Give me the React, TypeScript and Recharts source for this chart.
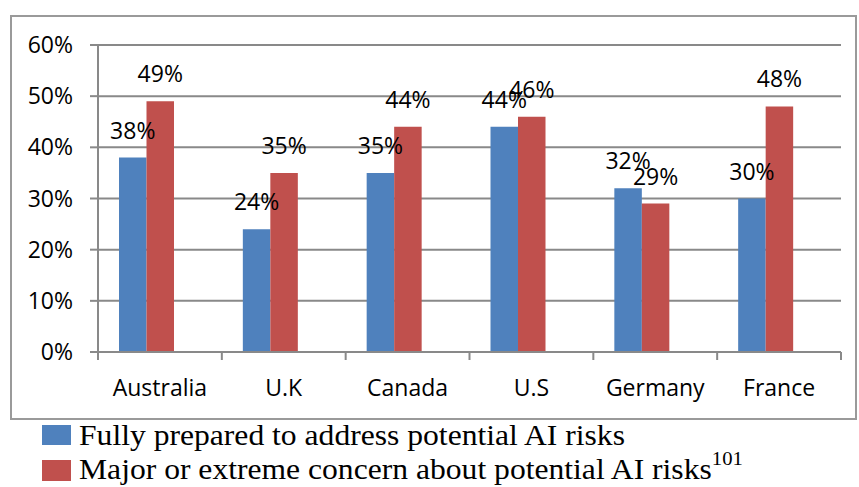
import React from 'react';
import { BarChart, Bar, XAxis, YAxis, CartesianGrid, Legend, LabelList } from 'recharts';

const categories = ['Australia', 'U.K', 'Canada', 'U.S', 'Germany', 'France'];
const preparedValues = [38, 24, 35, 44, 32, 30];
const concernValues = [49, 35, 44, 46, 29, 48];
const yTicks = [0, 10, 20, 30, 40, 50, 60];
const seriesNames = [
  'Fully prepared to address potential AI risks',
  'Major or extreme concern about potential AI risks',
];
const footnote = '101';

const data = categories.map((c, i) => ({
  name: c,
  prepared: preparedValues[i],
  concern: concernValues[i],
}));

const W = 859;
const H = 487;
const MARGIN = { top: 45, right: 18, left: 0, bottom: 0 };
const Y_AXIS_W = 98;
const PLOT_W = W - MARGIN.right - MARGIN.left - Y_AXIS_W;
const GRAY = '#898989';
const BLUE = '#4F81BD';
const RED = '#C0504D';
const SANS = '"Open Sans", Lato, sans-serif';
const SERIF = '"Liberation Serif", "Times New Roman", serif';
const FS = 23;

const XTick = (props: any) => {
  const { x, y, payload, index } = props;
  const band = PLOT_W / categories.length;
  const left = x - band / 2;
  const right = x + band / 2;
  return (
    <g>
      <line x1={left} x2={left} y1={y} y2={y + 8} stroke={GRAY} strokeWidth={2} />
      {index === categories.length - 1 && (
        <line x1={right} x2={right} y1={y} y2={y + 8} stroke={GRAY} strokeWidth={2} />
      )}
      <text x={x} y={y + 44} textAnchor="middle" fontFamily={SANS} fontSize={FS} fill="#000">
        {payload.value}
      </text>
    </g>
  );
};

const makeLabel = (props: any) => {
  const { x, y, width, value } = props;
  return (
    <text
      x={Number(x) + Number(width) / 2}
      y={Number(y) - 19}
      textAnchor="middle"
      fontFamily={SANS}
      fontSize={FS}
      fill="#000"
    >
      {value}%
    </text>
  );
};

const LegendContent = () => (
  <svg width={W} height={67} style={{ display: 'block' }}>
    <rect x={42} y={5} width={29} height={20} fill={BLUE} />
    <rect x={42} y={40} width={29} height={21} fill={RED} />
    <g transform="translate(79,0) scale(1.09,1)">
      <text x={0} y={25} fontFamily={SERIF} fontSize={29} fill="#000">
        {seriesNames[0]}
      </text>
      <text x={0} y={59} fontFamily={SERIF} fontSize={29} fill="#000">
        {seriesNames[1]}
        <tspan fontSize={19} dy={-14}>{footnote}</tspan>
      </text>
    </g>
  </svg>
);

export default function App() {
  return (
    <div style={{ position: 'absolute', left: 0, top: 0, width: W, height: H, background: '#fff' }}>
      <div
        style={{
          position: 'absolute',
          left: 10,
          top: 15,
          width: 847,
          height: 405,
          border: '2px solid #9a9a9a',
          boxSizing: 'border-box',
          pointerEvents: 'none',
        }}
      />
      <BarChart width={W} height={H} data={data} margin={MARGIN} barSize={27.5} barGap={0}>
        <CartesianGrid horizontal vertical={false} stroke={GRAY} strokeWidth={2} />
        <XAxis
          dataKey="name"
          height={68}
          axisLine={{ stroke: GRAY, strokeWidth: 2 }}
          tickLine={false}
          tickSize={0}
          tickMargin={0}
          interval={0}
          tick={<XTick />}
        />
        <YAxis
          width={Y_AXIS_W}
          domain={[0, 60]}
          ticks={yTicks}
          interval={0}
          tickFormatter={(v: number) => `${v}%`}
          axisLine={{ stroke: GRAY, strokeWidth: 2 }}
          tickLine={{ stroke: GRAY, strokeWidth: 2 }}
          tickSize={8}
          tickMargin={17}
          tick={{ fill: '#000', fontSize: FS, fontFamily: SANS }}
        />
        <Legend
          verticalAlign="bottom"
          align="left"
          height={67}
          wrapperStyle={{ left: 0, bottom: 0, width: W, height: 67 }}
          content={<LegendContent />}
        />
        <Bar dataKey="prepared" name={seriesNames[0]} fill={BLUE} isAnimationActive={false}>
          <LabelList dataKey="prepared" content={makeLabel} />
        </Bar>
        <Bar dataKey="concern" name={seriesNames[1]} fill={RED} isAnimationActive={false}>
          <LabelList dataKey="concern" content={makeLabel} />
        </Bar>
        <Bar dataKey="spacer" fill="none" isAnimationActive={false} legendType="none" />
      </BarChart>
    </div>
  );
}
